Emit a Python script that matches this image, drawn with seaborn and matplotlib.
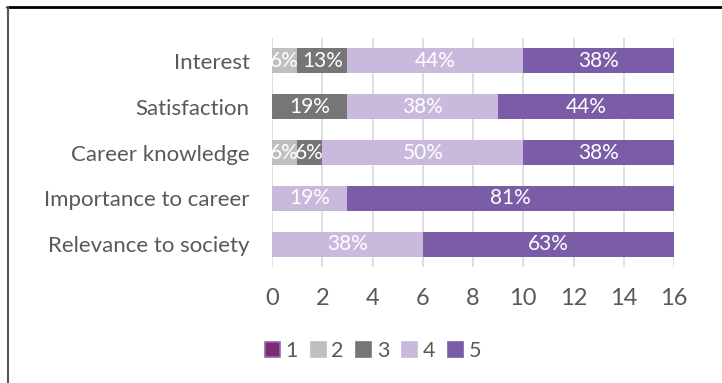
import matplotlib
matplotlib.use("Agg")
import matplotlib.pyplot as plt
from matplotlib.lines import Line2D
from matplotlib.patches import Patch
import seaborn as sns
import numpy as np
import pandas as pd

categories = ["Interest", "Satisfaction", "Career knowledge",
              "Importance to career", "Relevance to society"]
levels = ["1", "2", "3", "4", "5"]
r1 = [0, 0, 0, 0, 0]
r2 = [1, 0, 1, 0, 0]
r3 = [2, 3, 1, 0, 0]
r4 = [7, 6, 8, 3, 6]
r5 = [6, 7, 6, 13, 10]
x_ticks = [0, 2, 4, 6, 8, 10, 12, 14, 16]

colors = ["#7B2C72", "#BFBFBF", "#767676", "#C9BADD", "#7A5CA7"]
edge_colors = ["#8E6BB4", "#BFBFBF", "#767676", "#C9BADD", "#7A5CA7"]
text_color = "#595959"

sns.set_theme(style="white")
plt.rcParams["font.family"] = ["Lato", "DejaVu Sans"]

counts = np.array([r1, r2, r3, r4, r5], dtype=float)
cum = np.cumsum(counts, axis=0)
total = counts.sum(axis=0)

fig = plt.figure(figsize=(7.22, 3.83), dpi=100)
ax = fig.add_axes([272 / 722, 1 - 267 / 383, (674 - 272) / 722, (267 - 38) / 383])

# stacked bars: draw cumulative totals from the top level down
for i in range(len(levels) - 1, -1, -1):
    df = pd.DataFrame({"category": categories, "value": cum[i]})
    sns.barplot(data=df, x="value", y="category", orient="h", color=colors[i],
                saturation=1, width=0.55, linewidth=0, ax=ax, zorder=2)

# percentage labels inside each segment
for j in range(len(categories)):
    left = 0.0
    for i in range(len(levels)):
        v = counts[i, j]
        if v > 0:
            pct = int(v * 100 / total[j] + 0.5)
            ax.text(left + v / 2, j, f"{pct}%", ha="center", va="center",
                    color="white", fontsize=15, zorder=3)
        left += v

ax.set_xlim(0, 16)
ax.set_ylim(len(categories) - 0.5, -0.5)
ax.set_xticks(x_ticks)
ax.set_xticklabels([str(t) for t in x_ticks])
ax.set_xlabel("")
ax.set_ylabel("")
ax.grid(axis="x", color="#D9D9D9", linewidth=1.2, zorder=0)
ax.set_axisbelow(True)
for s in ax.spines.values():
    s.set_visible(False)
ax.tick_params(axis="x", length=0, pad=15, labelsize=17, labelcolor=text_color)
ax.tick_params(axis="y", length=0, pad=16, labelsize=16, labelcolor=text_color)

handles = [Patch(facecolor=colors[i], edgecolor=edge_colors[i], linewidth=1.2)
           for i in range(len(levels))]
fig.legend(handles, levels, loc="center", bbox_to_anchor=(373 / 722, 1 - 351 / 383),
           ncol=5, frameon=False, fontsize=15.5, handlelength=0.7, handleheight=0.7,
           handletextpad=0.25, columnspacing=0.6, labelcolor=text_color)

# chart frame
fig.add_artist(Line2D([7 / 722, 1], [1 - 7 / 383] * 2, transform=fig.transFigure,
                      color="black", linewidth=2))
fig.add_artist(Line2D([8 / 722] * 2, [0, 1 - 7 / 383], transform=fig.transFigure,
                      color="#555555", linewidth=1.5))

fig.savefig("out.png", dpi=100)
